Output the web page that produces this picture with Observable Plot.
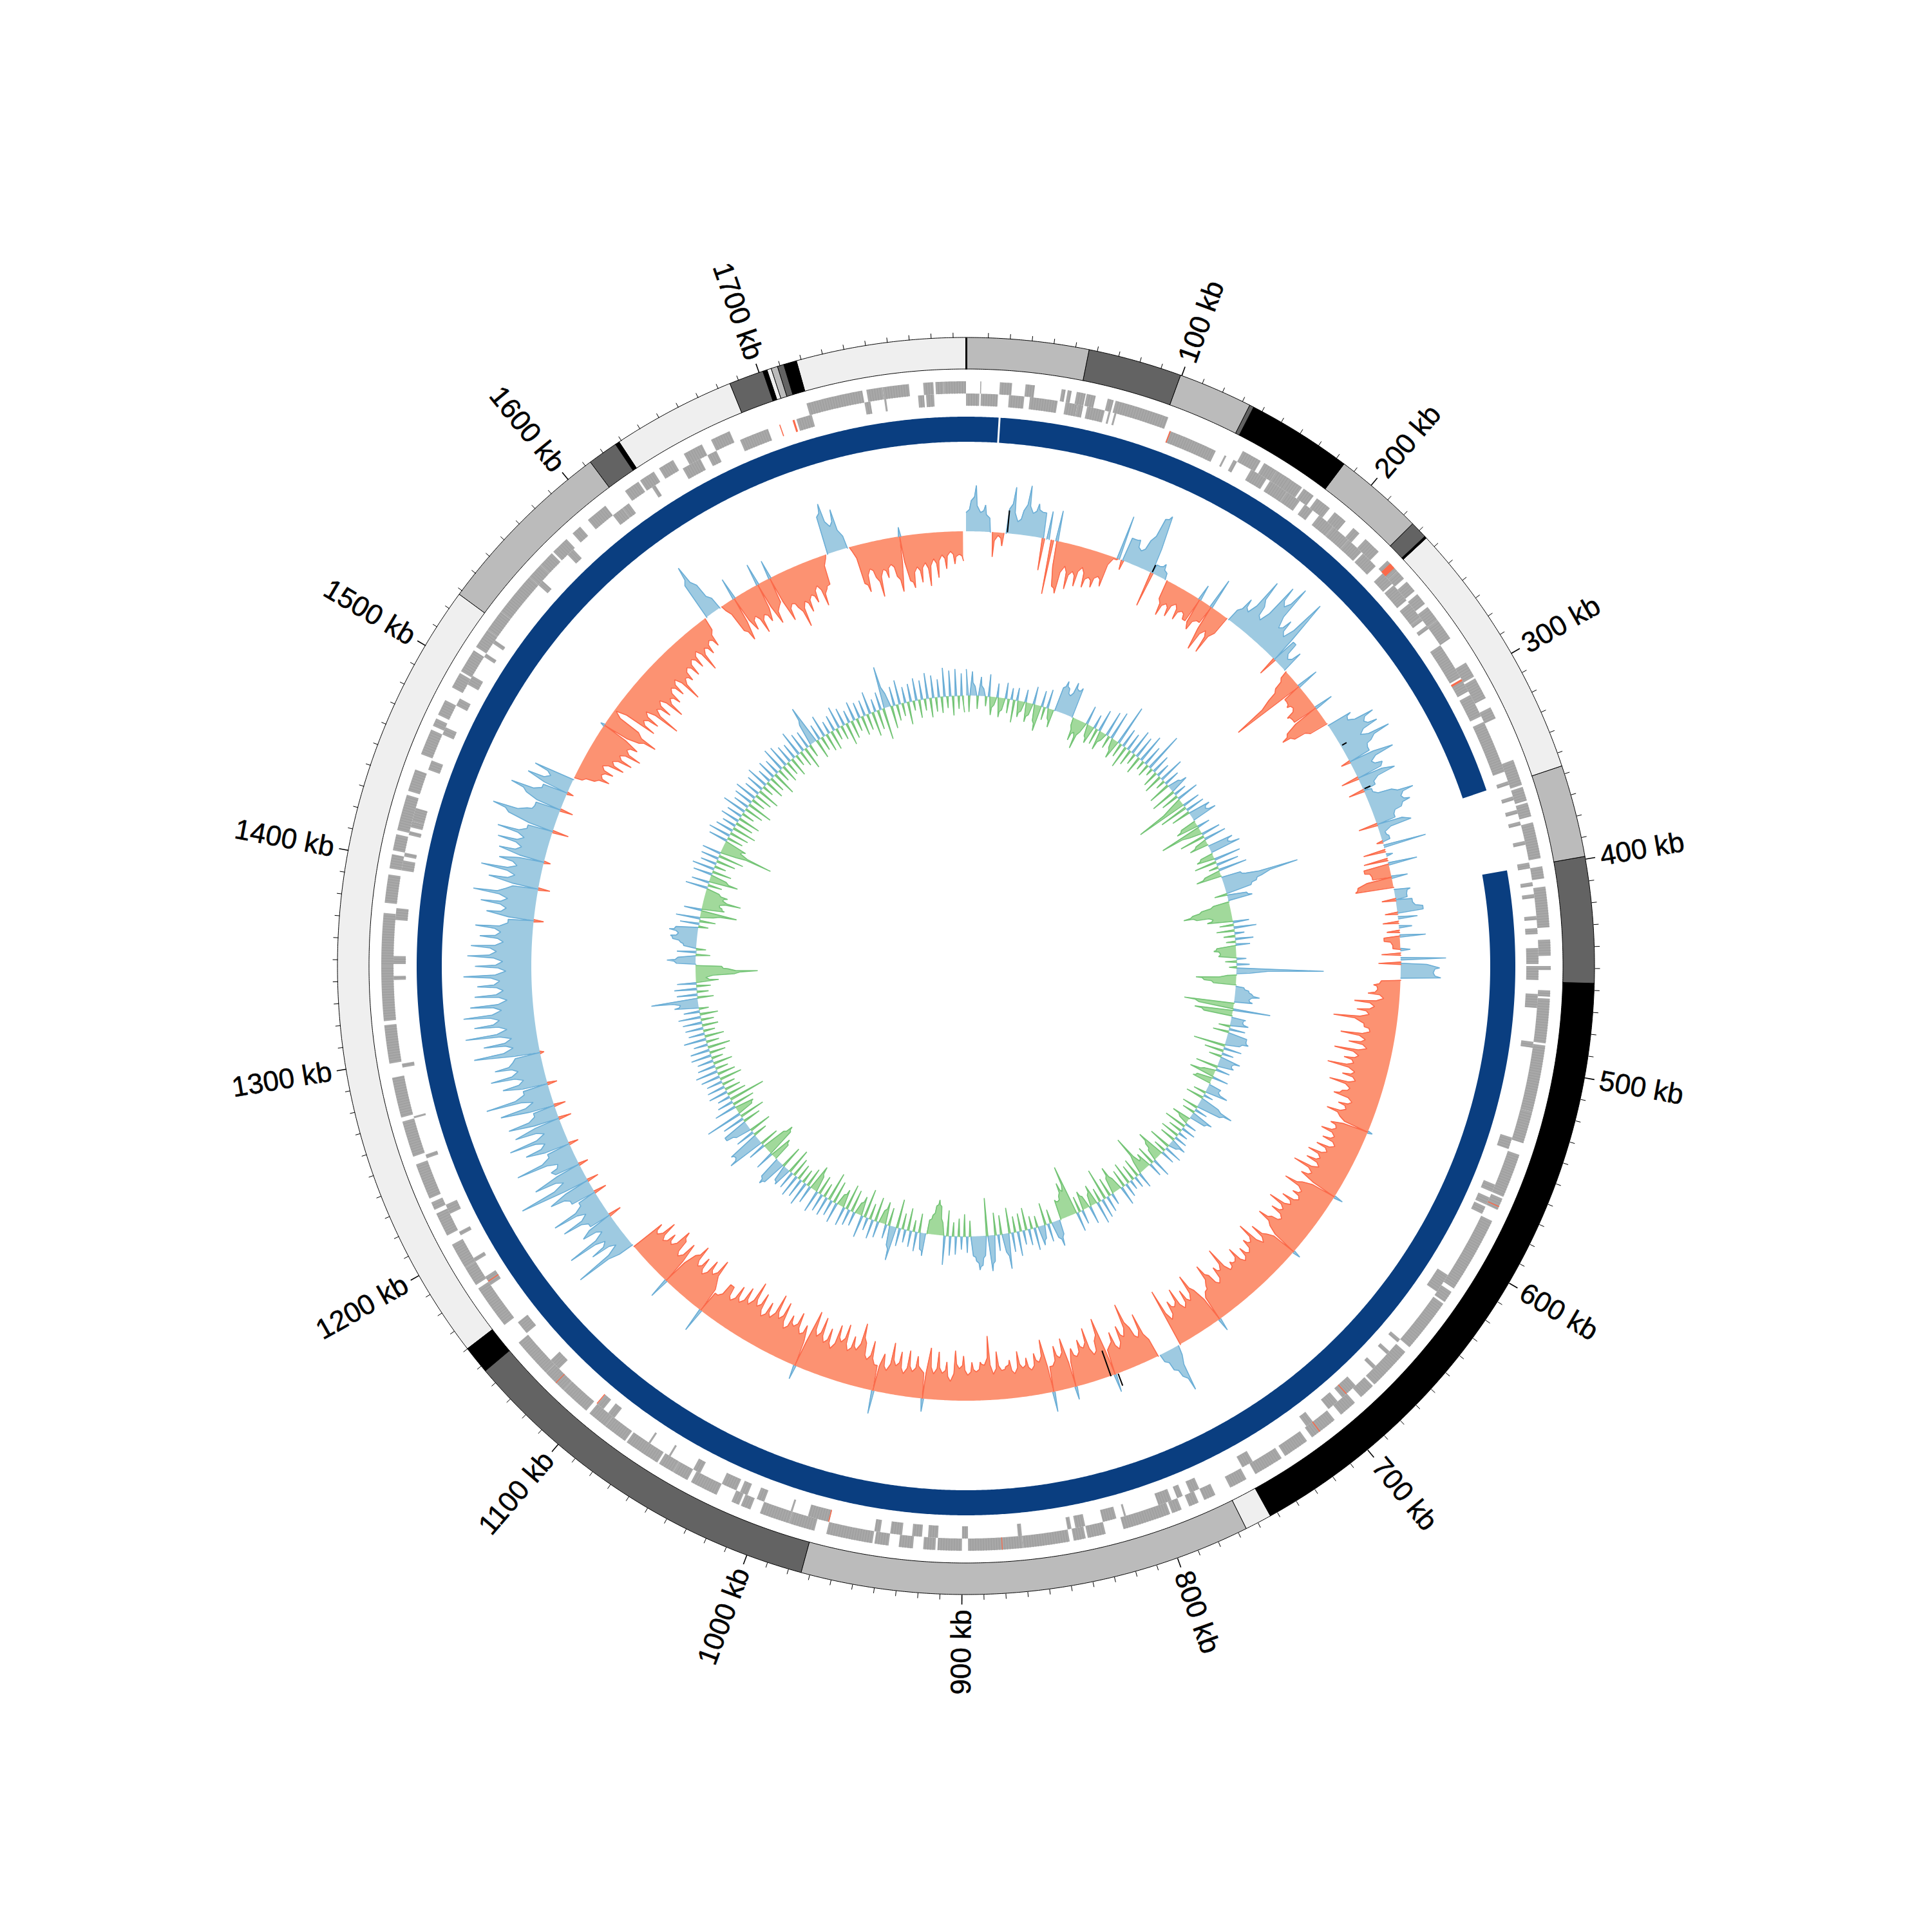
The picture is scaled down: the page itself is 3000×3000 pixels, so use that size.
<!DOCTYPE html>
<html><head><meta charset="utf-8">
<style>html,body{margin:0;background:#fff}svg{display:block}</style>
<script src="https://cdn.jsdelivr.net/npm/d3@7"></script>
<script src="https://cdn.jsdelivr.net/npm/@observablehq/plot@0.6"></script>
</head><body><div id="chart"></div>
<script>
const genomeKb = 1796;
const tickLabels = [100,200,300,400,500,600,700,800,900,1000,1100,1200,1300,1400,1500,1600,1700];
const blocks = [[0,56.5,"#bbbbbb"],[56.5,99.7,"#636363"],[99.7,134,"#bbbbbb"],[134,136,"#636363"],[136,184.6,"#000000"],[184.6,226,"#bbbbbb"],[226,234,"#636363"],[234,235,"#000000"],[235,356.5,"#efefef"],[356.5,399,"#bbbbbb"],[399,457,"#636363"],[457,753.6,"#000000"],[753.6,766,"#efefef"],[766,974,"#bbbbbb"],[974,1147,"#636363"],[1147,1160,"#000000"],[1160,1528,"#efefef"],[1528,1613,"#bbbbbb"],[1613,1627,"#636363"],[1627,1629,"#000000"],[1629,1686,"#efefef"],[1686,1702,"#636363"],[1702,1704,"#000000"],[1704,1706,"#efefef"],[1706,1709,"#bbbbbb"],[1709,1712,"#636363"],[1712,1718,"#000000"],[1718,1796,"#efefef"]];
const coverage = [[0,17],[18,356],[399,1796]];
const genesOuter = [[7,7.5],[16.6,22.6],[29.2,33.8],[47,49],[50,52],[54.5,59],[59.5,64],[70,73],[74,101],[141,151],[153,160],[160,168],[167,175],[176,182],[184,192],[195,202],[207,211],[215,224],[230,237],[237,242],[244,250],[252,258],[260,268],[268,279],[293,301],[302,313],[318,324],[346,359],[360,367],[368,375],[378,396],[400,406],[410,430],[436,444],[449,451],[461,464],[465,487],[488,521],[521,537],[543,565],[566,572],[578,616],[618,624],[625,652],[655,677],[678,686],[690,699],[703,717],[720,733],[735,750],[755,764],[772,778],[781,786],[790,795],[796,820],[829,838],[839,845],[847,870],[870,897],[900,912],[913,919],[924,931],[936,943],[944,967],[973,986],[986,1001],[1006,1011],[1012,1016],[1024,1038],[1040,1048],[1048,1056],[1057,1075],[1076,1088],[1088,1098],[1100,1115],[1115,1127],[1127,1147],[1158,1180],[1182,1192],[1192,1205],[1210,1222],[1224,1228],[1230,1248],[1252,1270],[1272,1292],[1299,1318],[1320,1347],[1347,1373],[1378,1392],[1395,1402],[1404,1412],[1414,1432],[1434,1445],[1453,1466],[1468,1472],[1474,1482],[1489,1497],[1498,1510],[1512,1522],[1522,1533],[1533,1555],[1555,1563],[1563,1571],[1572,1581],[1585,1590],[1595,1606],[1618,1626],[1627,1635],[1638,1646],[1652,1662],[1667,1677],[1717,1745],[1747,1755],[1755,1768],[1775,1780],[1781,1785],[1785,1796]];
const genesInner = [[0,6.7],[7.4,16],[21.5,29.2],[32,46],[50,56],[56,59],[61,70],[72,73],[75,76],[104,129],[134,135],[139,141],[149,158],[160,170],[170,178],[181,186],[190,199],[199,209],[209,218],[219,228],[233,240],[241,251],[253,262],[262,264],[267,269],[279,298],[299,306],[308,320],[323,350],[355,357],[363,365],[370,372],[376,378],[386,388],[397,400],[407,409],[413,415],[424,426],[430,433],[440,448],[449,456],[463,470],[487,490],[536,542],[561,565],[568,572],[573,577],[612,622],[652,654],[660,662],[670,672],[684,693],[696,702],[712,716],[748,754],[778,783],[787,790],[793,800],[817,818],[822,829],[838,843],[845,847],[870,872],[897,900],[912,917],[920,925],[930,936],[941,944],[967,978],[986,987],[1001,1005],[1010,1014],[1016,1024],[1036,1040],[1053,1054],[1065,1066],[1087,1091],[1094,1098],[1124,1130],[1148,1155],[1178,1183],[1192,1194],[1207,1209],[1219,1224],[1249,1251],[1270,1271],[1296,1298],[1340,1342],[1348,1352],[1370,1376],[1395,1400],[1402,1404],[1413,1415],[1417,1420],[1420,1427],[1447,1452],[1466,1470],[1482,1486],[1494,1499],[1510,1512],[1518,1520],[1555,1558],[1576,1580],[1606,1612],[1612,1616],[1630,1632],[1648,1658],[1662,1667],[1680,1695],[1710,1718],[1745,1748],[1755,1756],[1772,1775],[1776,1780]];
const rnaOuter = [[232,235],[570,570.5],[712,712.5],[880,880.4],[1120,1120.4]];
const rnaInner = [[104,104.6],[299,300],[690,690.5],[967,967.5],[1098,1098.5],[1180,1180.5],[1701,1701.5],[1708,1709]];
const skewRows = [
[30,48,72,30,42,22,-38,-4,-20,38,73,20,38,78,36,52,40,-50,44,-85,48,-70,-80,-35,-70,-40,-62,-30,-60,-42,-56,-36,-50],
[-2,70,-15,38,40,25,45,85,93,-55,15,22,10,-30,-55,-32,-50,-25,-48,-30,-40,25,-50,-30,49,-73,-35,-70,-30,20,46,28,91],
[50,30,100,70,111,40,60,35,109,-30,40,15,35,-12,-30,-50,-118,35,-30,-35,-28,-45,-40,30,-60,-73,-55,-30,40,30,71,50,69],
[35,81,45,35,-15,71,30,45,-28,59,20,-25,12,40,73,50,62,45,30,-30,53,8,12,-10,67,-35,10,-38,45,-40,-30,25,-55],
[-60,25,18,-22,25,40,-20,30,-25,20,-20,40,-25,-12,15,-30,70,-35,60,50,62,-30,-42,-35,-50,-25,-70,-38,-65,-45,-100,-55,-50],
[-40,-85,-45,-70,-40,-90,-50,-72,-55,-95,-50,-68,-45,-85,-50,-60,-72,-40,-60,-45,-74,-50,7,-60,-48,-70,-45,-62,-38,-66,-45,-74,-50],
[-70,-45,-85,-50,-65,14,-55,-82,-48,-60,-44,-70,-50,-85,-55,-72,-48,-62,-82,-55,12,-50,-75,-45,-89,-60,-70,-50,-65,-45,-75,-55,-60],
[-50,-94,-60,-70,-45,-65,-87,-55,-48,20,-60,-90,-50,-72,-45,-82,-55,-68,-40,-93,15,72,45,30,12,-30,-76,-40,-60,-101,-50,-70,-35],
[-65,-45,28,-94,-60,-40,-85,-55,-70,-45,-60,20,-79,-50,-70,-40,31,-84,-50,-65,-40,-60,-45,-72,-38,-60,-50,-45,-75,-40,-100,-55,-60],
[-45,-60,-40,-70,-50,-78,-30,-60,-42,-75,-40,-80,20,-45,-65,-40,-72,-35,-68,-45,-80,-35,-60,36,-40,-76,-45,-70,-99,-55,-75,-50,-90],
[-60,-85,-45,-75,-50,-88,-55,-93,22,-65,-48,-80,-55,-70,-45,-85,-55,-92,-50,-72,-45,-80,-55,-92,-50,-75,-45,-69,-40,-60,-60,-35,38],
[-50,-85,-55,-75,-45,-70,-50,-82,-60,32,-70,-40,-65,-78,-45,-60,-40,-70,-40,-55,25,97,20,60,30,90,25,55,-20,35,75,30,82],
[30,-20,40,70,-18,112,35,80,-15,45,30,95,38,-15,70,35,90,30,75,-20,80,35,-18,85,30,103,40,-15,70,35,85,40,75],
[45,-6,103,40,85,40,111,45,95,55,110,50,98,40,90,45,85,50,106,40,88,45,100,55,95,45,82,50,90,40,-15,75,45],
[86,45,100,50,-18,80,40,95,40,70,-10,74,40,80,40,85,40,-25,75,103,50,40,-20,60,88,40,-10,70,35,65,-12,-30,-52],
[-35,-52,-30,-63,-40,-70,-45,-78,-50,-65,7,-60,-86,-50,-2,-70,-45,-68,-40,-96,-50,-72,-45,-85,-55,-70,-45,-65,-40,-85,-50,-60,-40],
[-60,-35,-55,-30,-70,-35,-50,-30,-45,-20,60,88,50,20,-8,-50,-70,35,-60,-40,-72,-45,-60,35,-70,-45,30,-75,-50,-60,-94,-55,-75],
[-50,-65,-40,-75,-50,-45,-5,60,79,40,65,20,-5,-60,-75,-40,-55,-87,-45,-60,-40,-60,-85,15,-70,-82,-50,-75,-45,-82,-40,-70,-35],
[-57,-30,-50,-35,-45]];
const gcRows = [
[41,-25,38,15,-20,30,12,-15,35,-28,-12,22,-30,-18,25,-22,18,-35,20,-25,-15,20,-30,-18,28,-25,-40,25,-20,30,-15,-28,38],
[50,40,30,53,42,48,-12,-35,-20,-45,-15,30,-18,-28,22,-25,35,-30,-12,40,-20,45,-15,-30,64,-22,30,-35,28,-25,40,-18,35],
[-28,45,-15,32,-20,62,-12,30,-25,22,-30,40,-15,25,-35,18,30,-40,20,-28,35,-20,-81,28,-45,30,-30,35,25,40,-25,-35,20],
[-66,-20,30,-40,35,-18,-30,40,30,48,-20,-28,42,-35,35,-15,45,-25,-40,30,38,120,60,50,40,-20,30,38,-25,-45,-60,-75,-55],
[-30,-40,25,-22,35,-28,15,-18,28,-15,22,-30,-35,-25,-28,15,-18,20,-12,135,20,-15,-63,-50,-35,12,20,25,38,22,28,-78,-55],
[58,-60,-45,22,18,28,-18,25,-25,30,30,35,22,-50,28,-30,18,-20,32,20,25,-35,22,-18,-40,25,-25,-30,20,18,35,-20,15],
[-28,30,56,38,-25,20,-20,35,25,-30,-15,18,-35,22,-22,15,-30,20,-25,25,12,-35,28,-20,22,-45,-28,-18,30,-30,22,-25,-15],
[-62,-20,25,-30,18,-25,15,-35,22,-28,30,-20,-42,-25,18,-30,25,-50,30,-22,35,-32,-18,28,-20,-30,22,-25,30,-79,-40,-55,-35],
[-28,-32,22,40,25,-22,28,-35,20,30,-18,35,-20,25,-35,22,-28,38,-25,30,-40,55,28,-30,25,-35,40,55,-59,30,45,52,38],
[30,-25,25,-35,20,-28,28,-22,30,-40,45,-20,-45,-55,-45,-30,-22,35,25,-30,30,-18,25,-35,20,-25,28,-45,53,30,-28,22,-35],
[-20,25,-38,30,-25,20,-45,35,-30,-18,22,-35,25,-40,30,-28,-18,32,-35,25,-45,30,-22,28,-30,35,-25,-40,28,-30,38,-22,30],
[-25,35,-30,28,-40,30,25,-35,38,45,35,-28,-35,30,-45,-52,-38,28,-30,59,45,50,-22,30,-35,25,40,40,-28,35,-40,58,-25],
[-30,35,-35,25,-57,20,-30,30,-25,28,-20,25,-35,30,-28,35,-20,28,-30,25,-18,32,-25,30,-35,22,-20,35,-30,25,-18,28,-25],
[30,-20,35,-28,25,-15,38,28,73,-25,32,-18,35,-22,30,-35,-15,-60,-96,-50,-40,30,45,28,-22,30,-15,20,25,38,42,30,45],
[35,-15,30,-25,38,-20,-56,28,-35,-30,-25,-58,-28,-35,-20,35,-22,28,-45,-25,30,-30,35,-18,25,-30,28,-40,30,-25,-82,-28,-35],
[30,-25,35,-30,28,-38,22,-28,30,-35,25,-20,38,-30,25,-40,30,-22,35,-28,25,-35,28,-18,35,-30,22,-25,30,-38,25,-20,38],
[-28,35,-22,28,-30,25,-18,40,-25,30,-35,28,-20,35,62,-30,25,-22,35,-28,20,-30,25,-18,35,-22,28,-35,20,-28,30,-20,25],
[-30,25,-25,35,-38,20,-30,28,-49,66,22,-35,30,-25,38,-20,25,-35,28,-15,35,-28,30,-18,40,-30,35,-22,28,-25,45,-18,40],
[-30,42,-20,35,-25]];
const blackSpikes = [[27,2,36],[126,2,14],[297,2,10],[329,2,12],[801,-42,0],[796,0,20]];
const kbStep = 3, rowKb = 99, hairKb = 1.3;

const polar = (kb, r) => { const a = 2*Math.PI*kb/genomeKb; return [r*Math.sin(a), r*Math.cos(a)]; };
function band(spans, r0, r1, fillOf){
  const rows=[];
  spans.forEach((s,i)=>{
    const n=Math.max(1,Math.ceil(s[1]-s[0]));
    for(let j=0;j<=n;j++){
      const kb=s[0]+(s[1]-s[0])*j/n, [x1,y1]=polar(kb,r0), [x2,y2]=polar(kb,r1);
      rows.push({x1,y1,x2,y2,z:i,fill:fillOf(s)});
    }
  });
  return rows;
}
function hairlines(spans,r0,r1){
  const out=[];
  spans.forEach(s=>{ for(let k=s[0]+hairKb;k<s[1]-0.3;k+=hairKb){const [x1,y1]=polar(k,r0),[x2,y2]=polar(k,r1);out.push({x1,y1,x2,y2});}});
  return out;
}
// Turns the read values into a jagged outline: each peak keeps a narrow base, valleys stay V-shaped.
function needles(rows,hold){
  const P=[]; rows.forEach((row,r)=>row.forEach((v,j)=>P.push({kb:r*rowKb+j*kbStep,v})));
  const sgn=Math.sign, iso=i=>i>0&&i<P.length-1&&sgn(P[i].v)!==sgn(P[i-1].v)&&sgn(P[i].v)!==sgn(P[i+1].v);
  const lim=v=>sgn(v)*Math.min(Math.abs(v),hold), out=[];
  P.forEach((p,i)=>{
    if(i>0){
      const q=P[i-1];
      if(sgn(q.v)===sgn(p.v)){
        if(Math.abs(p.v)>Math.abs(q.v)) out.push({kb:p.kb-1.0,v:q.v+0.25*(p.v-q.v)});
        else out.push({kb:q.kb+0.7,v:p.v+0.25*(q.v-p.v)});
      } else if(iso(i)&&!iso(i-1)) { out.push({kb:p.kb-0.8,v:lim(q.v)}); }
      else if(iso(i-1)&&!iso(i)) { out.push({kb:q.kb+0.8,v:lim(p.v)}); }
      else { out.push({kb:q.kb+0.8,v:0},{kb:p.kb-0.8,v:0}); }
    }
    out.push(p);
  });
  return out;
}
function side(P,base,sign){
  const clamp=v=>sign>0?Math.max(v,0):Math.min(v,0), on=i=>i>=0&&i<P.length&&sign*P[i].v>0;
  const area=P.map(p=>{const [x1,y1]=polar(p.kb,base),[x2,y2]=polar(p.kb,base+clamp(p.v));return {x1,y1,x2,y2};});
  const line=P.map((p,i)=>{ if(!(on(i)||on(i-1)||on(i+1))) return {x:NaN,y:NaN};
    const [x,y]=polar(p.kb,base+clamp(p.v)); return {x,y};});
  return {area,line};
}
function track(P,base,colPos,linePos,colNeg,lineNeg){
  const p=side(P,base,1), n=side(P,base,-1), w=1.6;
  return [
    Plot.area(p.area,{x1:"x1",y1:"y1",x2:"x2",y2:"y2",fill:colPos}),
    Plot.area(n.area,{x1:"x1",y1:"y1",x2:"x2",y2:"y2",fill:colNeg}),
    Plot.line(p.line,{x:"x",y:"y",stroke:linePos,strokeWidth:w,strokeLinejoin:"miter"}),
    Plot.line(n.line,{x:"x",y:"y",stroke:lineNeg,strokeWidth:w,strokeLinejoin:"miter"})
  ];
}
const areaOpts={x1:"x1",y1:"y1",x2:"x2",y2:"y2",z:"z",fill:"fill"};
const linkOpts={x1:"x1",y1:"y1",x2:"x2",y2:"y2"};
const ticks=d3.range(10,genomeKb,10).map(kb=>{const major=kb%100===0,[x1,y1]=polar(kb,976),[x2,y2]=polar(kb,major?991:984);return {x1,y1,x2,y2,w:major?1.6:1};});
const labels=tickLabels.map(k=>{const a=k*360/genomeKb,[x,y]=polar(k,999);return {x,y,text:k+" kb",right:a<180,rotate:a<180?a-90:a-270};});
const spikeLinks=blackSpikes.map(([kb,a,b])=>{const [x1,y1]=polar(kb,675+a),[x2,y2]=polar(kb,675+b);return {x1,y1,x2,y2};});
const originLine=(()=>{const [x1,y1]=polar(0,927),[x2,y2]=polar(0,976);return [{x1,y1,x2,y2}];})();
const labelFont={fontFamily:"'Liberation Sans Narrow','Liberation Sans',sans-serif",fontSize:44,fill:"#000",stroke:"#000",strokeWidth:0.5,lineAnchor:"middle"};

const chart=Plot.plot({
  width:3000,height:3000,margin:0,
  x:{domain:[-1500,1500],axis:null},
  y:{domain:[-1500,1500],axis:null},
  color:{type:"identity"},
  marks:[
    Plot.area(band(blocks,927,976,s=>s[2]),{...areaOpts,stroke:"#000",strokeWidth:1}),
    Plot.link(originLine,{...linkOpts,stroke:"#000",strokeWidth:3}),
    Plot.link(ticks,{...linkOpts,stroke:"#000",strokeWidth:"w"}),
    Plot.text(labels.filter(d=>d.right),{x:"x",y:"y",text:"text",rotate:"rotate",textAnchor:"start",...labelFont}),
    Plot.text(labels.filter(d=>!d.right),{x:"x",y:"y",text:"text",rotate:"rotate",textAnchor:"end",...labelFont}),
    Plot.area(band(genesOuter,889,908,()=>"#a8a8a8"),areaOpts),
    Plot.area(band(genesInner,870,889,()=>"#a8a8a8"),areaOpts),
    Plot.link(hairlines(genesOuter,889,908),{...linkOpts,stroke:"#8f8f8f",strokeWidth:0.5}),
    Plot.link(hairlines(genesInner,870,889),{...linkOpts,stroke:"#8f8f8f",strokeWidth:0.5}),
    Plot.area(band(rnaOuter,889,908,()=>"#fb6a4a"),areaOpts),
    Plot.area(band(rnaInner,870,889,()=>"#fb6a4a"),areaOpts),
    Plot.area(band(coverage,814,853,()=>"#0a3e80"),areaOpts),
    ...track(needles(skewRows,40),675,"#9ecae1","#6baed6","#fc9272","#fb6a4a"),
    ...track(needles(gcRows,0),420,"#9ecae1","#6baed6","#a1d99b","#74c476"),
    Plot.link(spikeLinks,{...linkOpts,stroke:"#000",strokeWidth:2})
  ]
});
document.getElementById("chart").append(chart);
</script></body></html>
